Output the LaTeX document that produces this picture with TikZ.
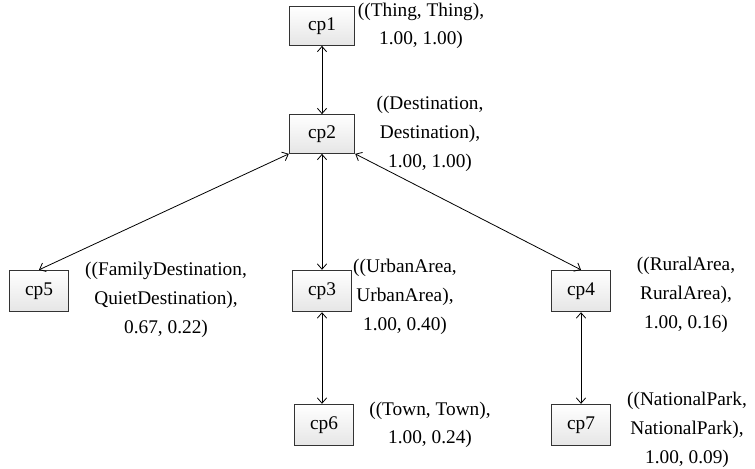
\documentclass[tikz,border=0pt]{standalone}
\usepackage{fontspec}
\setmainfont{Liberation Serif}
\usepackage{tikz}
\usetikzlibrary{arrows.meta, positioning}

\tikzset{
  cpbox/.style={draw=black!80, line width=0.8pt, top color=white, bottom color=black!10,
    minimum width=44pt, minimum height=31pt, inner sep=0pt},
  cpwide/.style={cpbox, minimum width=49pt, minimum height=29pt},
  cplabel/.style={align=center, inner sep=0pt},
  cplink/.style={{Straight Barb[length=4pt,width=7pt]}-{Straight Barb[length=4pt,width=7pt]}, line width=0.6pt},
}

\begin{document}
\begin{tikzpicture}[x=0.75pt, y=-0.75pt, font=\fontsize{14.5}{21.5}\selectfont]
    \useasboundingbox (0,0) rectangle (755,468);

    % 概念对
    \node[cpwide] (cp1) at (322,26) {cp1};
    \node[cpwide] (cp2) at (322,134) {cp2};
    \node[cpbox] (cp5) at (39,291) {cp5};
    \node[cpbox] (cp3) at (322,291) {cp3};
    \node[cpbox] (cp4) at (581,291) {cp4};
    \node[cpbox] (cp6) at (324,425) {cp6};
    \node[cpbox] (cp7) at (581,425) {cp7};

    % 标注
    \node[cplabel] (l1) at (421,26) {((Thing, Thing),\\1.00, 1.00)};
    \node[cplabel] (l2) at (430,134) {((Destination,\\Destination),\\1.00, 1.00)};
    \node[cplabel] (l5) at (166,300) {((FamilyDestination,\\QuietDestination),\\0.67, 0.22)};
    \node[cplabel] (l3) at (405,297) {((UrbanArea,\\UrbanArea),\\1.00, 0.40)};
    \node[cplabel] (l4) at (686,295) {((RuralArea,\\RuralArea),\\1.00, 0.16)};
    \node[cplabel] (l6) at (430,425) {((Town, Town),\\1.00, 0.24)};
    \node[cplabel] (l7) at (687,430) {((NationalPark,\\NationalPark),\\1.00, 0.09)};

    % 连线
    \draw[cplink] (cp1) -- (cp2);
    \draw[cplink] (cp2.south west) -- (cp5.north);
    \draw[cplink] (cp2) -- (cp3);
    \draw[cplink] (cp2.south east) -- (cp4.north);
    \draw[cplink] (cp3) -- (cp3 |- cp6.north);
    \draw[cplink] (cp4) -- (cp7);
\end{tikzpicture}
\end{document}
